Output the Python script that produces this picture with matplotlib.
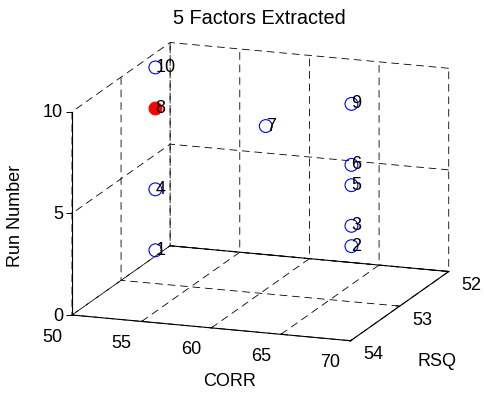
import numpy as np
import matplotlib
matplotlib.use("Agg")
import matplotlib.pyplot as plt
from mpl_toolkits.mplot3d import proj3d

plt.rcParams["font.family"] = ["Liberation Sans", "DejaVu Sans"]
plt.rcParams["font.size"] = 13
plt.rcParams["lines.scale_dashes"] = False
plt.rcParams["grid.color"] = "k"
plt.rcParams["grid.linewidth"] = 0.6
plt.rcParams["grid.linestyle"] = (0, (5.5, 3.5))

# Runs of the factor extraction: CORR, RSQ and run number
run_number = [1, 2, 3, 4, 5, 6, 7, 8, 9, 10]
corr = [51.3, 65.2, 65.2, 51.3, 65.2, 65.2, 58.1, 51.3, 65.2, 51.3]
rsq = [52.67, 52.62, 52.62, 52.67, 52.62, 52.62, 52.35, 52.67, 52.62, 52.67]
highlight_run = 8

corr_ticks = [50, 55, 60, 65, 70]
rsq_ticks = [52, 53, 54]
run_ticks = [0, 5, 10]

W, H = 484, 393
FS = 13
fig = plt.figure(figsize=(W / 100, H / 100), dpi=100)
side = 0.8
ax = fig.add_axes([0.1, 0.5 - side * W / H / 2, side, side * W / H],
                  projection="3d", proj_type="ortho")
ax.computed_zorder = False
ax.view_init(elev=14.8, azim=-70.1)
ax.set_box_aspect((296, 288, 210))

ax.set_xlim(corr_ticks[0], corr_ticks[-1])
ax.set_ylim(rsq_ticks[-1], rsq_ticks[0])
ax.set_zlim(run_ticks[0], run_ticks[-1])
ax.set_xticks(corr_ticks)
ax.set_yticks(rsq_ticks)
ax.set_zticks(run_ticks)
ax.set_xticklabels([])
ax.set_yticklabels([])
ax.set_zticklabels([])
ax.zaxis.set_ticks_position("none")

for axis in (ax.xaxis, ax.yaxis, ax.zaxis):
    axis.set_pane_color((1, 1, 1, 0))
    axis.line.set_color("k")
    axis.line.set_linewidth(0.8)
    axis._axinfo["grid"].update(color="k", linewidth=0.6,
                                linestyle=(0, (5.5, 3.5)))
    axis._axinfo["tick"]["inward_factor"] = 0.0
    axis._axinfo["tick"]["outward_factor"] = 0.15
ax.zaxis.line.set_linewidth(0)
ax.tick_params(colors="k", width=0.6)
ax.grid(True)

xl, yl, zl = ax.get_xlim(), ax.get_ylim(), ax.get_zlim()
y_front, y_back = max(yl), min(yl)

# solid back edge of the floor and the vertical Run Number axis
ax.plot(xl, [y_back] * 2, [zl[0]] * 2, color="k", lw=0.8, zorder=1)
ax.plot([xl[0]] * 2, [y_front] * 2, zl, color="k", lw=0.8, zorder=1)
ax.plot([xl[0]] * len(run_ticks), [y_front] * len(run_ticks), run_ticks,
        ls="none", marker=0, ms=4, mew=0.7, color="k", zorder=1)

corr_a = np.array(corr)
rsq_a = np.array(rsq)
run_a = np.array(run_number)
mask = run_a == highlight_run
ax.scatter(corr_a[~mask], rsq_a[~mask], run_a[~mask], s=85, marker="o",
           facecolors="none", edgecolors="b", linewidths=0.8,
           depthshade=False, zorder=2)
ax.scatter(corr_a[mask], rsq_a[mask], run_a[mask], s=85, marker="o",
           color="r", linewidths=0.8, depthshade=False, zorder=2)


def project(xs, ys, zs):
    px, py, _ = proj3d.proj_transform(np.asarray(xs, float),
                                      np.asarray(ys, float),
                                      np.asarray(zs, float), ax.get_proj())
    return ax.transData.transform(np.column_stack([px, py]))


# place the box so that its front corner sits at (72, 315) px, top-down
target_a = np.array([72.0, H - 315.0])
target_len = np.hypot(377, 43) + 203
for _ in range(3):
    fig.canvas.draw()
    pa, pb, pc = project([xl[0], xl[1], xl[0]],
                         [y_front, y_back, y_front],
                         [zl[0], zl[0], zl[1]])
    cur = np.hypot(*(pb - pa)) + np.hypot(*(pc - pa))
    s = target_len / cur
    pos = ax.get_position(original=True)
    cxf, cyf = pos.x0 + pos.width / 2, pos.y0 + pos.height / 2
    w, h = pos.width * s, pos.height * s
    ax.set_position([cxf - w / 2, cyf - h / 2, w, h])
    fig.canvas.draw()
    pa = project([xl[0]], [y_front], [zl[0]])[0]
    d = (target_a - pa) / np.array([W, H])
    pos = ax.get_position(original=True)
    ax.set_position([pos.x0 + d[0], pos.y0 + d[1], pos.width, pos.height])
fig.canvas.draw()


def label_at(xs, ys, zs, texts, dx, dy, **kw):
    """Write texts at projected 3D points, shifted by (dx, dy) pixels."""
    pts = project(xs, ys, zs)
    for (px, py), t in zip(pts, texts):
        fig.text((px + dx) / W, (py + dy) / H, t, fontsize=FS, **kw)


# run numbers beside each point
label_at(corr, rsq, run_number, [str(r) for r in run_number], 0, 0,
         ha="left", va="center")

# tick labels
label_at(corr_ticks, [y_front] * len(corr_ticks), [zl[0]] * len(corr_ticks),
         [f"{t:g}" for t in corr_ticks], -20, -22, ha="center", va="center")
label_at([xl[1]] * len(rsq_ticks), rsq_ticks, [zl[0]] * len(rsq_ticks),
         [f"{t:g}" for t in rsq_ticks], 23, -14, ha="center", va="center")
label_at([xl[0]] * len(run_ticks), [y_front] * len(run_ticks), run_ticks,
         [f"{t:g}" for t in run_ticks], -9, -1, ha="right", va="center")

fig.text(259 / W, 1 - 19 / H, "5 Factors Extracted", ha="center",
         va="center", fontsize=14.3)
fig.text(230 / W, 1 - 382 / H, "CORR", ha="center", va="center", fontsize=FS)
fig.text(437 / W, 1 - 362 / H, "RSQ", ha="center", va="center", fontsize=FS)
fig.text(16 / W, 1 - 216 / H, "Run Number", ha="center", va="center",
         rotation=90, fontsize=FS)

fig.savefig("out.png", dpi=100)
